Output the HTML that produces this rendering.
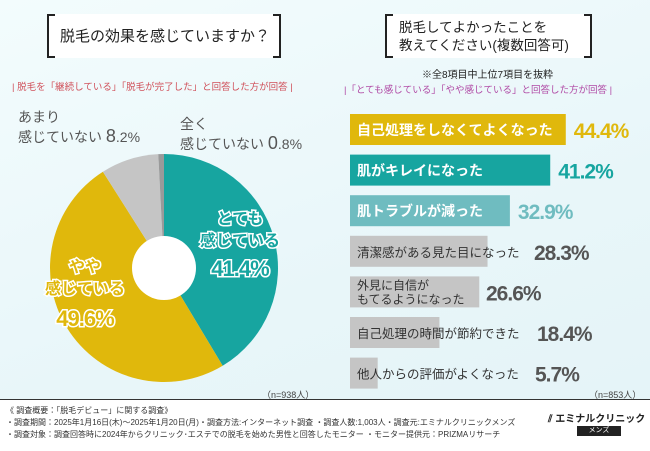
<!DOCTYPE html>
<html><head><meta charset="utf-8"><style>
body{margin:0;width:650px;height:450px;overflow:hidden;font-family:"Liberation Sans","Noto Sans CJK JP",sans-serif;}
#root{position:relative;width:650px;height:450px;background:linear-gradient(160deg,#f3fcfd 0%,#e8f6f9 60%,#e4f3f7 100%);}
.t{position:absolute;white-space:nowrap;}
.box{position:absolute;background:#fff;border-left:2px solid #222;border-right:2px solid #222;}
.box:before,.box:after{content:"";position:absolute;left:-2px;right:-2px;height:2px;background:linear-gradient(90deg,#222 0 8px,transparent 8px calc(100% - 8px),#222 calc(100% - 8px));}
.box:before{top:0}.box:after{bottom:0}
</style></head><body>
<div id="root">
<div class="box" style="left:47px;top:14px;width:230px;height:44px;"></div>
<div class="t" style="left:60px;top:25px;font-size:15px;color:#222;">脱毛の効果を感じていますか？</div>
<div class="t" style="left:12px;top:79px;font-size:9.5px;color:#d0505a;">| 脱毛を「継続している」「脱毛が完了した」と回答した方が回答 |</div>
<div class="t" style="left:18px;top:108px;font-size:14px;line-height:19px;color:#555;">あまり<br>感じていない <span style="font-size:18px">8</span>.2%</div>
<div class="t" style="left:180px;top:115px;font-size:14px;line-height:19px;color:#555;">全く<br>感じていない <span style="font-size:18px">0</span>.8%</div>
<svg id="pie" width="650" height="450" style="position:absolute;left:0;top:0"></svg>
<div class="box" style="left:385px;top:14px;width:203px;height:44px;"></div>
<div class="t" style="left:399px;top:19px;font-size:13.5px;line-height:18px;color:#222;">脱毛してよかったことを<br>教えてください(複数回答可)</div>
<div class="t" style="left:422px;top:66px;font-size:10px;color:#222;">※全8項目中上位7項目を抜粋</div>
<div class="t" style="left:344px;top:82px;font-size:9.5px;color:#b04aa5;">|「とても感じている」「やや感じている」と回答した方が回答 |</div>
<svg id="bars" width="650" height="450" style="position:absolute;left:0;top:0"></svg>
<div class="t" style="left:262px;top:388px;font-size:9px;color:#444;">（n=938人）</div>
<div class="t" style="left:589px;top:388px;font-size:9px;color:#444;">（n=853人）</div>
<div style="position:absolute;left:0;top:399px;width:650px;height:51px;background:#fff;border-top:1px solid #333;">
<div class="t" style="left:6px;top:5px;font-size:8px;line-height:12px;color:#333;">《 調査概要：「脱毛デビュー」に関する調査》<br>・調査期間：2025年1月16日(木)～2025年1月20日(月)・調査方法:インターネット調査 ・調査人数:1,003人・調査元:エミナルクリニックメンズ<br>・調査対象：調査回答時に2024年からクリニック･エステでの脱毛を始めた男性と回答したモニター ・モニター提供元：PRIZMAリサーチ</div>
<div class="t" style="left:548px;top:10px;font-size:10px;font-weight:bold;color:#222;">⫽ エミナルクリニック</div>
<div style="position:absolute;left:577px;top:26px;width:44px;height:10px;background:#222;color:#fff;font-size:7px;text-align:center;line-height:10px;">メンズ</div>
</div>
</div>
<script>
const pieLabels=["とても感じている","やや感じている","あまり感じていない","全く感じていない"];
const pieValues=[41.4,49.6,8.2,0.8];
const pieColors=["#17a5a0","#e0b80c","#c5c5c5","#9a9a9a"];
const barLabels=["自己処理をしなくてよくなった","肌がキレイになった","肌トラブルが減った","清潔感がある見た目になった","外見に自信がもてるようになった","自己処理の時間が節約できた","他人からの評価がよくなった"];
const barValues=[44.4,41.2,32.9,28.3,26.6,18.4,5.7];
const NS="http://www.w3.org/2000/svg";
const pie=document.getElementById('pie');
const cx=164,cy=268,R=114,r0=32;
const total=pieValues.reduce((a,b)=>a+b,0);
let a=0;
pieValues.forEach((v,i)=>{
 const a0=a/total*2*Math.PI,a1=(a+v)/total*2*Math.PI;a+=v;
 const x0=cx+R*Math.sin(a0),y0=cy-R*Math.cos(a0),x1=cx+R*Math.sin(a1),y1=cy-R*Math.cos(a1);
 const p=document.createElementNS(NS,'path');
 p.setAttribute('d',`M${cx},${cy}L${x0},${y0}A${R},${R} 0 ${a1-a0>Math.PI?1:0} 1 ${x1},${y1}Z`);
 p.setAttribute('fill',pieColors[i]);
 
 
 pie.appendChild(p);
});
const h=document.createElementNS(NS,'circle');h.setAttribute('cx',cx);h.setAttribute('cy',cy);h.setAttribute('r',r0);h.setAttribute('fill','#fff');


pie.appendChild(h);
function txt(svg,x,y,s,size,fill,stroke,name,anchor){
 const t=document.createElementNS(NS,'text');t.setAttribute('x',x);t.setAttribute('y',y);t.setAttribute('font-size',size);t.setAttribute('fill',fill);
 t.setAttribute('font-weight','bold');t.setAttribute('text-anchor',anchor||'middle');
 if(stroke){t.setAttribute('stroke',stroke);t.setAttribute('stroke-width','3');t.setAttribute('paint-order','stroke');}
 t.setAttribute('font-family','"Liberation Sans","Noto Sans CJK JP",sans-serif');
 t.textContent=s;
 
 
 svg.appendChild(t);return t;}
txt(pie,240,224,"とても",16,"#17a5a0","#fff","pie-label-very");
txt(pie,240,246,"感じている",16,"#17a5a0","#fff","pie-label-very");
txt(pie,240,276,pieValues[0]+"%",22,"#17a5a0","#fff","pie-value-very").setAttribute('letter-spacing','-1');
txt(pie,85,272,"やや",16,"#e0b80c","#fff","pie-label-some");
txt(pie,85,294,"感じている",16,"#e0b80c","#fff","pie-label-some");
txt(pie,85,326,pieValues[1]+"%",22,"#e0b80c","#fff","pie-value-some").setAttribute('letter-spacing','-1');
const bars=document.getElementById('bars');
const bx=350,scale=4.86,by0=114,step=40.6,bh=31;
const fills=["#e0b80c","#17a5a0","#6fbcc0","#c5c5c5","#c5c5c5","#c5c5c5","#c5c5c5"];
const vcol=["#e0b80c","#17a5a0","#6fbcc0","#555","#555","#555","#555"];
barValues.forEach((v,i)=>{
 const y=by0+i*step,w=v*scale;
 const rc=document.createElementNS(NS,'rect');rc.setAttribute('x',bx);rc.setAttribute('y',y);rc.setAttribute('width',w);rc.setAttribute('height',bh);rc.setAttribute('fill',fills[i]);
 
 
 bars.appendChild(rc);
 const colored=i<3;
 const lab=barLabels[i];
 if(i===4){
  txt(bars,bx+7,y+13,"外見に自信が",12,"#333",null,"bar-label","start").setAttribute('font-weight','normal');
  txt(bars,bx+7,y+27,"もてるようになった",12,"#333",null,"bar-label","start").setAttribute('font-weight','normal');
 } else {
  const t=txt(bars,bx+7,y+21,lab,colored?14:12.5,colored?"#fff":"#333",colored?fills[i]:null,"bar-label","start");
  if(!colored)t.setAttribute('font-weight','normal');
 }
 let lx=Math.max(bx+w+8,[0,0,0,534,0,537,535][i]||0);
 if(i===4)lx=486;
 const vt=txt(bars,lx,y+24,v.toFixed(1)+"%",21,vcol[i],null,"bar-value","start");
 vt.setAttribute('letter-spacing','-1');
});
</script>
</body></html>
